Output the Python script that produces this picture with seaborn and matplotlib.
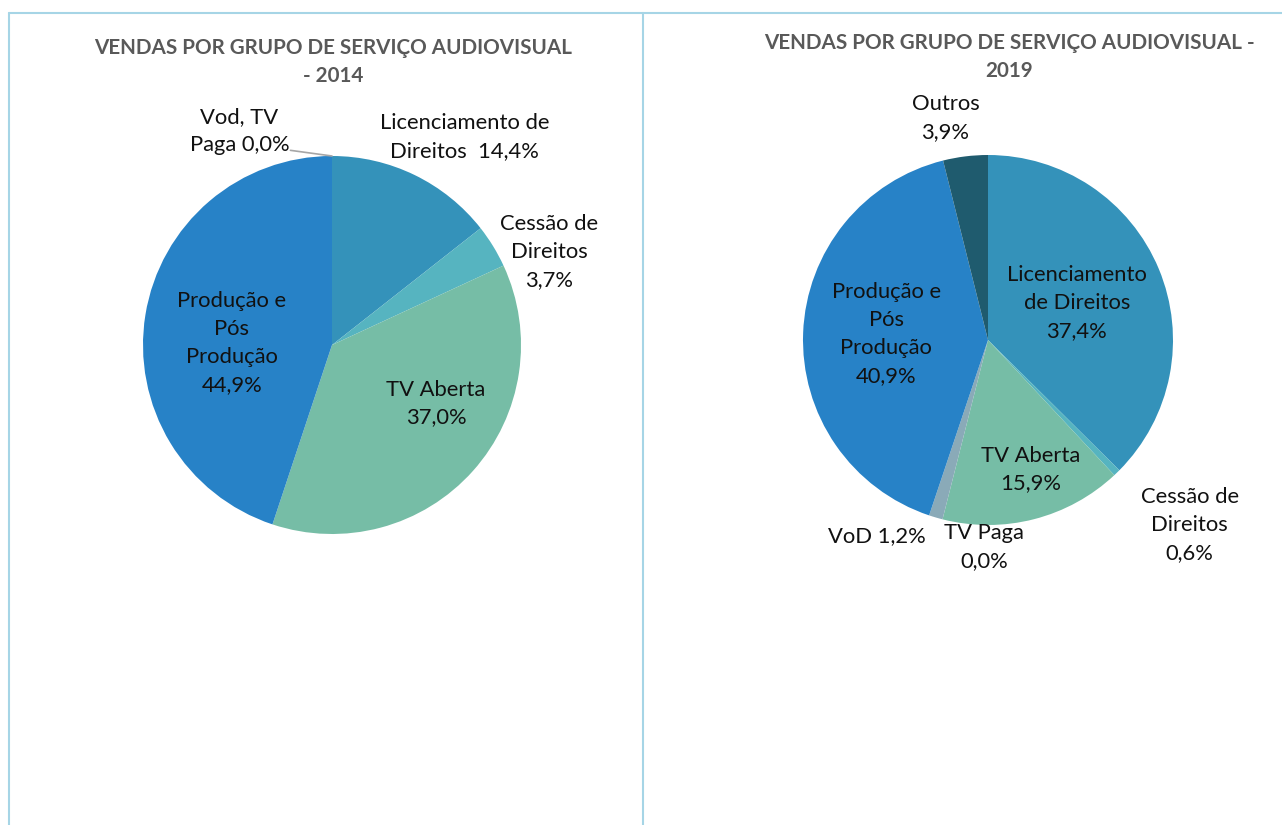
import numpy as np
import matplotlib.pyplot as plt
import seaborn as sns
from matplotlib.lines import Line2D

# data
labels_2014 = ["Licenciamento de\nDireitos  14,4%", "Cessão de\nDireitos\n3,7%", "TV Aberta\n37,0%",
               "Produção e\nPós\nProdução\n44,9%", "Vod, TV\nPaga 0,0%"]
values_2014 = [14.4, 3.7, 37.0, 44.9, 0.0]
colors_2014 = ["#3492ba", "#56b4c0", "#76bda6", "#2782c7", "#8aaab8"]

labels_2019 = ["Licenciamento\nde Direitos\n37,4%", "Cessão de\nDireitos\n0,6%", "TV Aberta\n15,9%",
               "TV Paga\n0,0%", "VoD 1,2%", "Produção e\nPós\nProdução\n40,9%", "Outros\n3,9%"]
values_2019 = [37.4, 0.6, 15.9, 0.0, 1.2, 40.9, 3.9]
colors_2019 = ["#3492ba", "#56b4c0", "#76bda6", "#8fb3c4", "#8aaab8", "#2782c7", "#1f5b6e"]

# label positions in pie-radius units
pos_2014 = [(0.70, 1.10), (1.15, 0.49), (0.55, -0.31), (-0.53, 0.01), (-0.49, 1.13)]
pos_2019 = [(0.48, 0.20), (1.09, -1.00), (0.23, -0.70), (-0.02, -1.12), (-0.60, -1.06),
            (-0.55, 0.03), (-0.23, 1.20)]

sns.set_theme(style="white")
plt.rcParams["font.family"] = ["Lato", "DejaVu Sans"]

W, H = 1282, 825
fig = plt.figure(figsize=(W / 100, H / 100), dpi=100)
fig.patch.set_facecolor("white")


def add_pie(cx, cy, r, values, colors, labels, pos, k=1.5):
    side = 2 * r * k
    ax = fig.add_axes([(cx - side / 2) / W, (H - cy - side / 2) / H, side / W, side / H])
    ax.pie(values, colors=colors, startangle=90, counterclock=False,
           wedgeprops=dict(linewidth=0))
    for lab, (x, y) in zip(labels, pos):
        ax.text(x, y, lab, ha="center", va="center", fontsize=15.8, color="#111111",
                linespacing=1.5)
    ax.set_xlim(-k, k)
    ax.set_ylim(-k, k)
    ax.set_aspect("equal")
    ax.axis("off")
    return ax


ax1 = add_pie(332, 345, 189, values_2014, colors_2014, labels_2014, pos_2014)
# leader line for the zero slice
ax1.plot([-0.22, 0.0], [1.03, 1.0], color="#a6a6a6", lw=1.2)

ax2 = add_pie(988, 340, 185, values_2019, colors_2019, labels_2019, pos_2019)

# titles
fig.text(333 / W, 1 - 62 / H, "VENDAS POR GRUPO DE SERVIÇO AUDIOVISUAL\n- 2014",
         ha="center", va="center", fontsize=14.9, fontweight="bold", color="#595959",
         linespacing=1.55)
fig.text(1009 / W, 1 - 57 / H, "VENDAS POR GRUPO DE SERVIÇO AUDIOVISUAL -\n2019",
         ha="center", va="center", fontsize=14.9, fontweight="bold", color="#595959",
         linespacing=1.45)

# panel borders
bc = "#a6d5e6"
for xs, ys in [([9, W], [13, 13]), ([9, 9], [13, H]), ([643, 643], [13, H])]:
    fig.add_artist(Line2D([x / W for x in xs], [1 - y / H for y in ys], color=bc, lw=1.5))

plt.savefig("out.png", dpi=100)
plt.close()
